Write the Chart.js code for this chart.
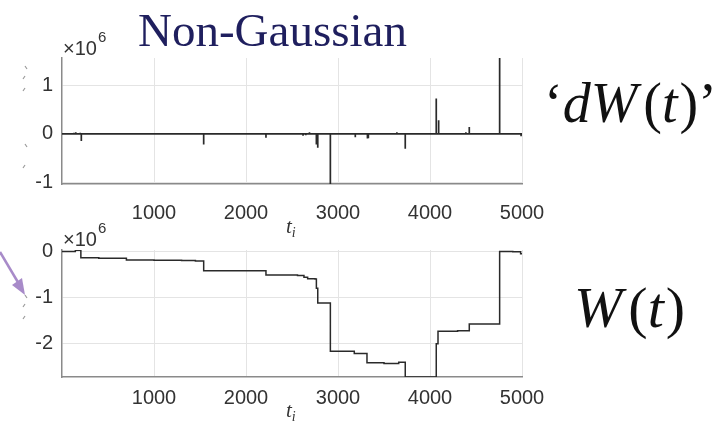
<!DOCTYPE html>
<html>
<head>
<meta charset="utf-8">
<script src="https://cdn.jsdelivr.net/npm/chart.js@4/dist/chart.umd.min.js"></script>
<style>
    html, body { margin: 0; padding: 0; background: #fff; }
    #wrap { position: relative; width: 727px; height: 433px; }
    #wrap canvas { position: absolute; left: 0; top: 0; }
</style>
</head>
<body>
<div id="wrap">
    <canvas id="dwChart" width="727" height="433"></canvas>
    <canvas id="wChart" width="727" height="433"></canvas>
</div>
<script>
/* =========================
   DATA (values in units of 1e6)
========================= */
const xTickValues = [1000, 2000, 3000, 4000, 5000];
const dwTickValues = [-1, 0, 1];
const wTickValues = [-2, -1, 0];

// increments: spike times and heights
const dwTimes = [130, 150, 198, 210, 420, 560, 700, 880, 1200, 1380, 1480, 1540,
    1750, 1900, 2100, 2217, 2300, 2450, 2620, 2650, 2690, 2765, 2780, 2917,
    3100, 3188, 3250, 3320, 3330, 3450, 3640, 3731, 3900, 4030, 4068, 4094,
    4390, 4427, 4600, 4757, 4990];
const dwValues = [0.02, 0.03, 0.02, -0.15, -0.01, 0.01, -0.02, -0.01, 0.01, -0.01, -0.01, -0.22,
    0.01, -0.01, -0.01, -0.08, 0.01, -0.01, -0.04, -0.03, 0.03, -0.22, -0.29, -1.04,
    0.01, -0.07, -0.01, -0.10, -0.09, -0.01, 0.03, -0.31, -0.01, 0.01, 0.73, 0.28,
    0.03, 0.14, -0.01, 1.57, -0.05];

// path: level reached at each time
const wTimes = [0, 145, 205, 400, 700, 1000, 1300, 1450, 1540, 2217, 2560, 2630, 2670,
    2750, 2765, 2780, 2917, 3177, 3315, 3500, 3660, 3731, 4068, 4087, 4300, 4427,
    4757, 4900, 4985, 5000];
const wValues = [0.0, 0.025, -0.14, -0.15, -0.185, -0.19, -0.20, -0.21, -0.42, -0.51, -0.52, -0.56, -0.59,
    -0.60, -0.80, -1.12, -2.16, -2.21, -2.41, -2.43, -2.40, -2.72, -2.00, -1.73, -1.72, -1.57,
    0.0, -0.01, -0.05, -0.05];

const dwRange = [-1.04, 1.57];
const wRange = [-2.72, 0.03];

/* =========================
   HELPERS
========================= */
const TICK_FONT = { family: "'Liberation Sans', Arial, sans-serif", size: 20 };
const LINE_COLOR = "#2a2a2a";

function spikePoints(times, values) {
    const pts = [{ x: 0, y: 0 }];
    times.forEach((t, i) => {
        pts.push({ x: t, y: 0 }, { x: t, y: values[i] }, { x: t, y: 0 });
    });
    pts.push({ x: 5000, y: 0 });
    return pts;
}

function buildScales(range, yTicks, xPad) {
    return {
        x: {
            type: "linear",
            min: 0,
            max: 5000,
            afterBuildTicks: s => { s.ticks = xTickValues.map(v => ({ value: v })); },
            afterFit: s => { s.height = 56; },
            ticks: {
                font: TICK_FONT, color: "#333", padding: xPad,
                maxRotation: 0, autoSkip: false,
                callback: v => String(v)
            },
            grid: { color: "#e4e4e4", drawTicks: false },
            border: { color: "#8a8a8a", width: 1.5 }
        },
        y: {
            type: "linear",
            min: range[0],
            max: range[1],
            afterBuildTicks: s => { s.ticks = yTicks.map(v => ({ value: v })); },
            afterFit: s => { s.width = 62; },
            ticks: { font: TICK_FONT, color: "#333", padding: 9, callback: v => String(v) },
            grid: { color: "#e4e4e4", drawTicks: false },
            border: { color: "#8a8a8a", width: 1.5 }
        }
    };
}

// draw a run of [text, italic, size, dy, gap] pieces side by side
function drawPieces(ctx, pieces, x, y, color) {
    ctx.save();
    ctx.fillStyle = color;
    ctx.textBaseline = "alphabetic";
    ctx.textAlign = "left";
    let cx = x;
    pieces.forEach(p => {
        const [text, italic, size, dy, gap] = p;
        ctx.font = (italic ? "italic " : "") + size + "px 'Liberation Serif', 'Times New Roman', serif";
        ctx.fillText(text, cx, y + (dy || 0));
        cx += ctx.measureText(text).width + (gap || 0);
    });
    ctx.restore();
}

function drawExponent(ctx, x, baseline) {
    ctx.save();
    ctx.fillStyle = "#333";
    ctx.textBaseline = "alphabetic";
    ctx.font = "20px 'Liberation Sans', Arial, sans-serif";
    ctx.fillText("\u00d710", x, baseline);
    const w = ctx.measureText("\u00d710").width;
    ctx.font = "15px 'Liberation Sans', Arial, sans-serif";
    ctx.fillText("6", x + w + 1, baseline - 13);
    ctx.restore();
}

function drawAxisTitle(ctx, cx, baseline) {
    drawPieces(ctx, [["t", true, 21, 0, 0], ["i", true, 14, 4, 0]], cx - 6, baseline, "#333");
}

// small remnants of the clipped vertical labels at the far left
function drawStubs(ctx, ys) {
    ctx.save();
    ctx.strokeStyle = "#9a9a9a";
    ctx.lineWidth = 1.2;
    ys.forEach(([y, dir]) => {
        ctx.beginPath();
        ctx.moveTo(25, y);
        ctx.lineTo(25 + 2 * dir, y + 3);
        ctx.stroke();
    });
    ctx.restore();
}

/* =========================
   OVERLAY PLUGINS
========================= */
const topOverlay = {
    id: "topOverlay",
    afterDraw(chart) {
        const ctx = chart.ctx;
        const area = chart.chartArea;
        // heading
        ctx.save();
        ctx.fillStyle = "#1f1f5e";
        ctx.font = "47px 'Liberation Serif', 'Times New Roman', serif";
        ctx.textBaseline = "alphabetic";
        ctx.fillText("Non-Gaussian", 138, 46);
        ctx.restore();

        drawExponent(ctx, area.left + 1, area.top - 3);
        drawAxisTitle(ctx, (area.left + area.right) / 2, 233);
        drawStubs(ctx, [[66, 1], [76, -1], [88, -1], [144, 1], [165, -1]]);

        drawPieces(ctx, [
            ["\u2018", false, 56, 0, 0],
            ["d", true, 56, 0, 0],
            ["W", true, 56, 0, 6],
            ["(", false, 56, 0, 0],
            ["t", true, 56, 0, 2],
            [")", false, 56, 0, 0],
            ["\u2019", false, 56, 0, 0]
        ], 544, 122, "#111");
    }
};

const bottomOverlay = {
    id: "bottomOverlay",
    afterDraw(chart) {
        const ctx = chart.ctx;
        const area = chart.chartArea;
        drawExponent(ctx, area.left + 1, area.top - 4);
        drawAxisTitle(ctx, (area.left + area.right) / 2, 417);
        drawStubs(ctx, [[295, 1], [304, -1], [316, -1]]);

        drawPieces(ctx, [
            ["W", true, 58, 0, 6],
            ["(", false, 58, 0, 0],
            ["t", true, 58, 0, 2],
            [")", false, 58, 0, 0]
        ], 574, 327, "#111");

        // pointer arrow on the left edge
        ctx.save();
        ctx.strokeStyle = "#a88bc9";
        ctx.fillStyle = "#a88bc9";
        ctx.lineWidth = 2.5;
        ctx.beginPath();
        ctx.moveTo(0, 252);
        ctx.lineTo(19, 284);
        ctx.stroke();
        ctx.beginPath();
        ctx.moveTo(25, 295);
        ctx.lineTo(12, 285);
        ctx.lineTo(22, 278);
        ctx.closePath();
        ctx.fill();
        ctx.restore();
    }
};

/* =========================
   CHARTS
========================= */
new Chart(document.getElementById("dwChart"), {
    type: "line",
    data: {
        datasets: [{
            data: spikePoints(dwTimes, dwValues),
            borderColor: LINE_COLOR,
            borderWidth: 1.7,
            pointRadius: 0,
            tension: 0
        }]
    },
    options: {
        responsive: false,
        animation: false,
        devicePixelRatio: 1,
        layout: { padding: { top: 58, right: 205, bottom: 193, left: 0 } },
        plugins: { legend: { display: false }, tooltip: { enabled: false } },
        scales: buildScales(dwRange, dwTickValues, 17)
    },
    plugins: [topOverlay]
});

new Chart(document.getElementById("wChart"), {
    type: "line",
    data: {
        datasets: [{
            data: wTimes.map((t, i) => ({ x: t, y: wValues[i] })),
            borderColor: LINE_COLOR,
            borderWidth: 1.5,
            pointRadius: 0,
            stepped: true
        }]
    },
    options: {
        responsive: false,
        animation: false,
        devicePixelRatio: 1,
        layout: { padding: { top: 250, right: 205, bottom: 0, left: 0 } },
        plugins: { legend: { display: false }, tooltip: { enabled: false } },
        scales: buildScales(wRange, wTickValues, 9)
    },
    plugins: [bottomOverlay]
});
</script>
</body>
</html>
